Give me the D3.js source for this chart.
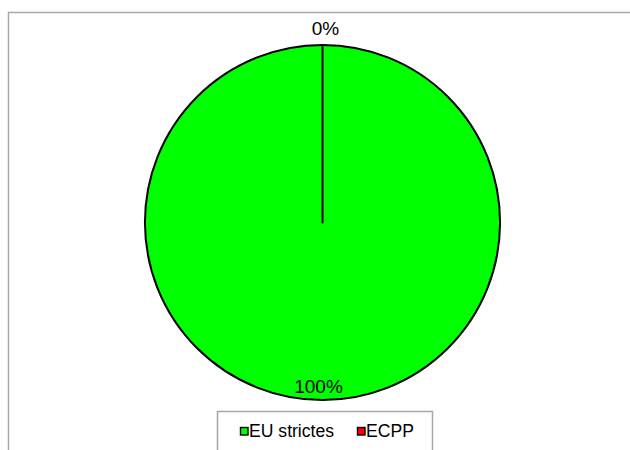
<!DOCTYPE html>
<html><head><meta charset="utf-8">
<script src="https://cdn.jsdelivr.net/npm/d3@7"></script>
<style>body{margin:0;background:#fff}svg{display:block}</style>
</head><body>
<svg id="c" width="630" height="450"></svg>
<script>
const categories = ["EU strictes", "ECPP"];
const values = [100, 0];
const labels = ["100%", "0%"];
const colors = ["#00ff00", "#ff0000"];

const svg = d3.select("#c");
svg.append("rect").attr("x", 8.5).attr("y", 12.5).attr("width", 640).attr("height", 460)
  .attr("fill", "#fff").attr("stroke", "#a6a6a6").attr("stroke-width", 1.5);

const cx = 322.5, cy = 222.5, r = 177.5;
const pie = d3.pie().sort(null).value(d => d)(values);
const arc = d3.arc().innerRadius(0).outerRadius(r);
const g = svg.append("g").attr("transform", `translate(${cx},${cy})`);
g.selectAll("path").data(pie).join("path")
  .attr("d", arc)
  .attr("fill", (d, i) => colors[i])
  .attr("stroke", "#000").attr("stroke-width", 2).attr("stroke-linejoin", "round");

pie.forEach((d, i) => {
  const mid = (d.startAngle + d.endAngle) / 2;
  const lr = d.value === 0 ? r + 17 : r - 14;
  const x = Math.sin(mid) * lr + (d.value === 0 ? 3 : -4);
  const y = -Math.cos(mid) * lr;
  g.append("text").attr("x", x).attr("y", y).attr("dy", "0.35em")
    .attr("text-anchor", "middle")
    .attr("font-family", "Liberation Sans, Arial, sans-serif")
    .attr("font-size", 19).attr("fill", "#000").text(labels[i]);
});

// legend
svg.append("rect").attr("x", 217.5).attr("y", 411.5).attr("width", 215).attr("height", 60)
  .attr("fill", "#fff").attr("stroke", "#a6a6a6").attr("stroke-width", 1.5);
const lx = [240, 357];
categories.forEach((c, i) => {
  svg.append("rect").attr("x", lx[i] + 0.5).attr("y", 427.5).attr("width", 7.5).attr("height", 7.5)
    .attr("fill", colors[i]).attr("stroke", "#000").attr("stroke-width", 1.4);
  svg.append("text").attr("x", lx[i] + 9).attr("y", 437)
    .attr("font-family", "Liberation Sans, Arial, sans-serif")
    .attr("font-size", 17.6).attr("fill", "#000").text(c);
});
</script>
</body></html>
